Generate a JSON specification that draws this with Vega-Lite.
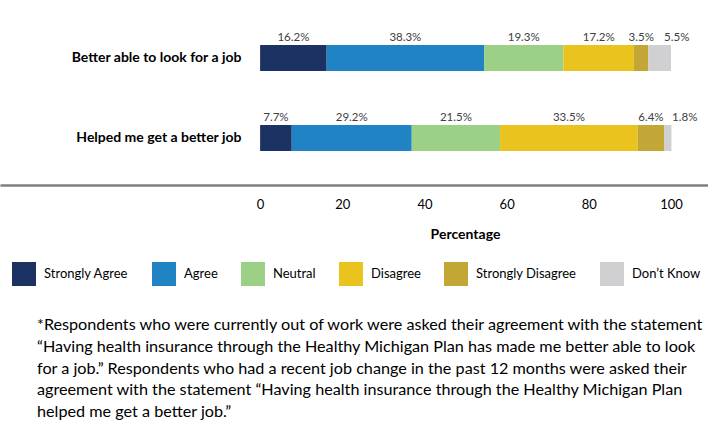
{
  "$schema": "https://vega.github.io/schema/vega-lite/v6.json",
  "width": 708,
  "height": 174,
  "autosize": "none",
  "padding": {"left": 0, "top": 11, "right": 0, "bottom": 236},
  "background": "white",
  "config": {"view": {"stroke": null}, "font": "Lato"},
  "title": {
    "text": [
      "*Respondents who were currently out of work were asked their agreement with the statement",
      "“Having health insurance through the Healthy Michigan Plan has made me better able to look",
      "for a job.” Respondents who had a recent job change in the past 12 months were asked their",
      "agreement with the statement “Having health insurance through the Healthy Michigan Plan",
      "helped me get a better job.”"
    ],
    "orient": "bottom",
    "anchor": "start",
    "frame": "group",
    "dx": 37,
    "offset": 31,
    "fontSize": 16.2,
    "fontWeight": "normal",
    "lineHeight": 21.8,
    "color": "#000000",
    "baseline": "top"
  },
  "data": {
    "values": [
      {"q": "Better able to look for a job", "resp": "Strongly Agree", "order": 1, "pct": 16.2, "label": "16.2%"},
      {"q": "Better able to look for a job", "resp": "Agree", "order": 2, "pct": 38.3, "label": "38.3%"},
      {"q": "Better able to look for a job", "resp": "Neutral", "order": 3, "pct": 19.3, "label": "19.3%"},
      {"q": "Better able to look for a job", "resp": "Disagree", "order": 4, "pct": 17.2, "label": "17.2%"},
      {"q": "Better able to look for a job", "resp": "Strongly Disagree", "order": 5, "pct": 3.5, "label": "3.5%"},
      {"q": "Better able to look for a job", "resp": "Don’t Know", "order": 6, "pct": 5.5, "label": "5.5%"},
      {"q": "Helped me get a better job", "resp": "Strongly Agree", "order": 1, "pct": 7.7, "label": "7.7%"},
      {"q": "Helped me get a better job", "resp": "Agree", "order": 2, "pct": 29.2, "label": "29.2%"},
      {"q": "Helped me get a better job", "resp": "Neutral", "order": 3, "pct": 21.5, "label": "21.5%"},
      {"q": "Helped me get a better job", "resp": "Disagree", "order": 4, "pct": 33.5, "label": "33.5%"},
      {"q": "Helped me get a better job", "resp": "Strongly Disagree", "order": 5, "pct": 6.4, "label": "6.4%"},
      {"q": "Helped me get a better job", "resp": "Don’t Know", "order": 6, "pct": 1.8, "label": "1.8%"}
    ]
  },
  "transform": [
    {"stack": "pct", "groupby": ["q"], "sort": [{"field": "order"}], "as": ["x0", "x1"]}
  ],
  "encoding": {
    "y": {
      "field": "q",
      "type": "nominal",
      "sort": ["Better able to look for a job", "Helped me get a better job"],
      "scale": {"paddingInner": 0.675, "paddingOuter": 0.425},
      "axis": {
        "orient": "left",
        "offset": -241,
        "title": null,
        "ticks": false,
        "domain": false,
        "labelPadding": 0,
        "labelFontWeight": "bold",
        "labelFontSize": 14,
        "labelColor": "#000000",
        "labelAlign": "right"
      }
    }
  },
  "layer": [
    {
      "mark": {"type": "bar"},
      "encoding": {
        "x": {
          "field": "x0",
          "type": "quantitative",
          "scale": {"domain": [-63.3, 109.0], "nice": false, "zero": false},
          "axis": {
            "values": [0, 20, 40, 60, 80, 100],
            "ticks": false,
            "grid": false,
            "domainColor": "#7f7f7f",
            "domainWidth": 2.5,
            "labelFontSize": 13,
            "labelColor": "#000000",
            "labelPadding": 13,
            "title": "Percentage",
            "titleFontSize": 14,
            "titleFontWeight": "bold",
            "titleColor": "#000000",
            "titlePadding": 16,
            "titleX": 465
          }
        },
        "x2": {"field": "x1"},
        "color": {
          "field": "resp",
          "type": "nominal",
          "scale": {
            "domain": ["Strongly Agree", "Agree", "Neutral", "Disagree", "Strongly Disagree", "Don’t Know"],
            "range": ["#1b3262", "#1f83c4", "#9dd087", "#eac31e", "#c2a636", "#d0d0d2"]
          },
          "legend": {
            "orient": "none",
            "legendX": 12,
            "legendY": 251,
            "direction": "horizontal",
            "title": null,
            "symbolType": "square",
            "symbolSize": 576,
            "symbolStrokeWidth": 0,
            "symbolOpacity": 1,
            "labelFontSize": 13,
            "labelColor": "#000000",
            "labelOffset": 8,
            "columnPadding": 23
          }
        }
      }
    },
    {
      "transform": [
        {"filter": "datum.resp !== 'Don’t Know'"},
        {"fold": ["x0", "x1"], "as": ["edge", "pos"]}
      ],
      "mark": {"type": "text", "dy": -20, "fontSize": 11.5, "color": "#404040"},
      "encoding": {
        "x": {"field": "pos", "type": "quantitative", "aggregate": "mean"},
        "detail": {"field": "resp"},
        "text": {"field": "label", "type": "nominal"}
      }
    },
    {
      "transform": [
        {"filter": "datum.resp === 'Don’t Know'"},
        {"fold": ["x0", "x1"], "as": ["edge", "pos"]}
      ],
      "mark": {"type": "text", "dy": -20, "dx": 17, "fontSize": 11.5, "color": "#404040"},
      "encoding": {
        "x": {"field": "pos", "type": "quantitative", "aggregate": "mean"},
        "detail": {"field": "resp"},
        "text": {"field": "label", "type": "nominal"}
      }
    }
  ]
}
